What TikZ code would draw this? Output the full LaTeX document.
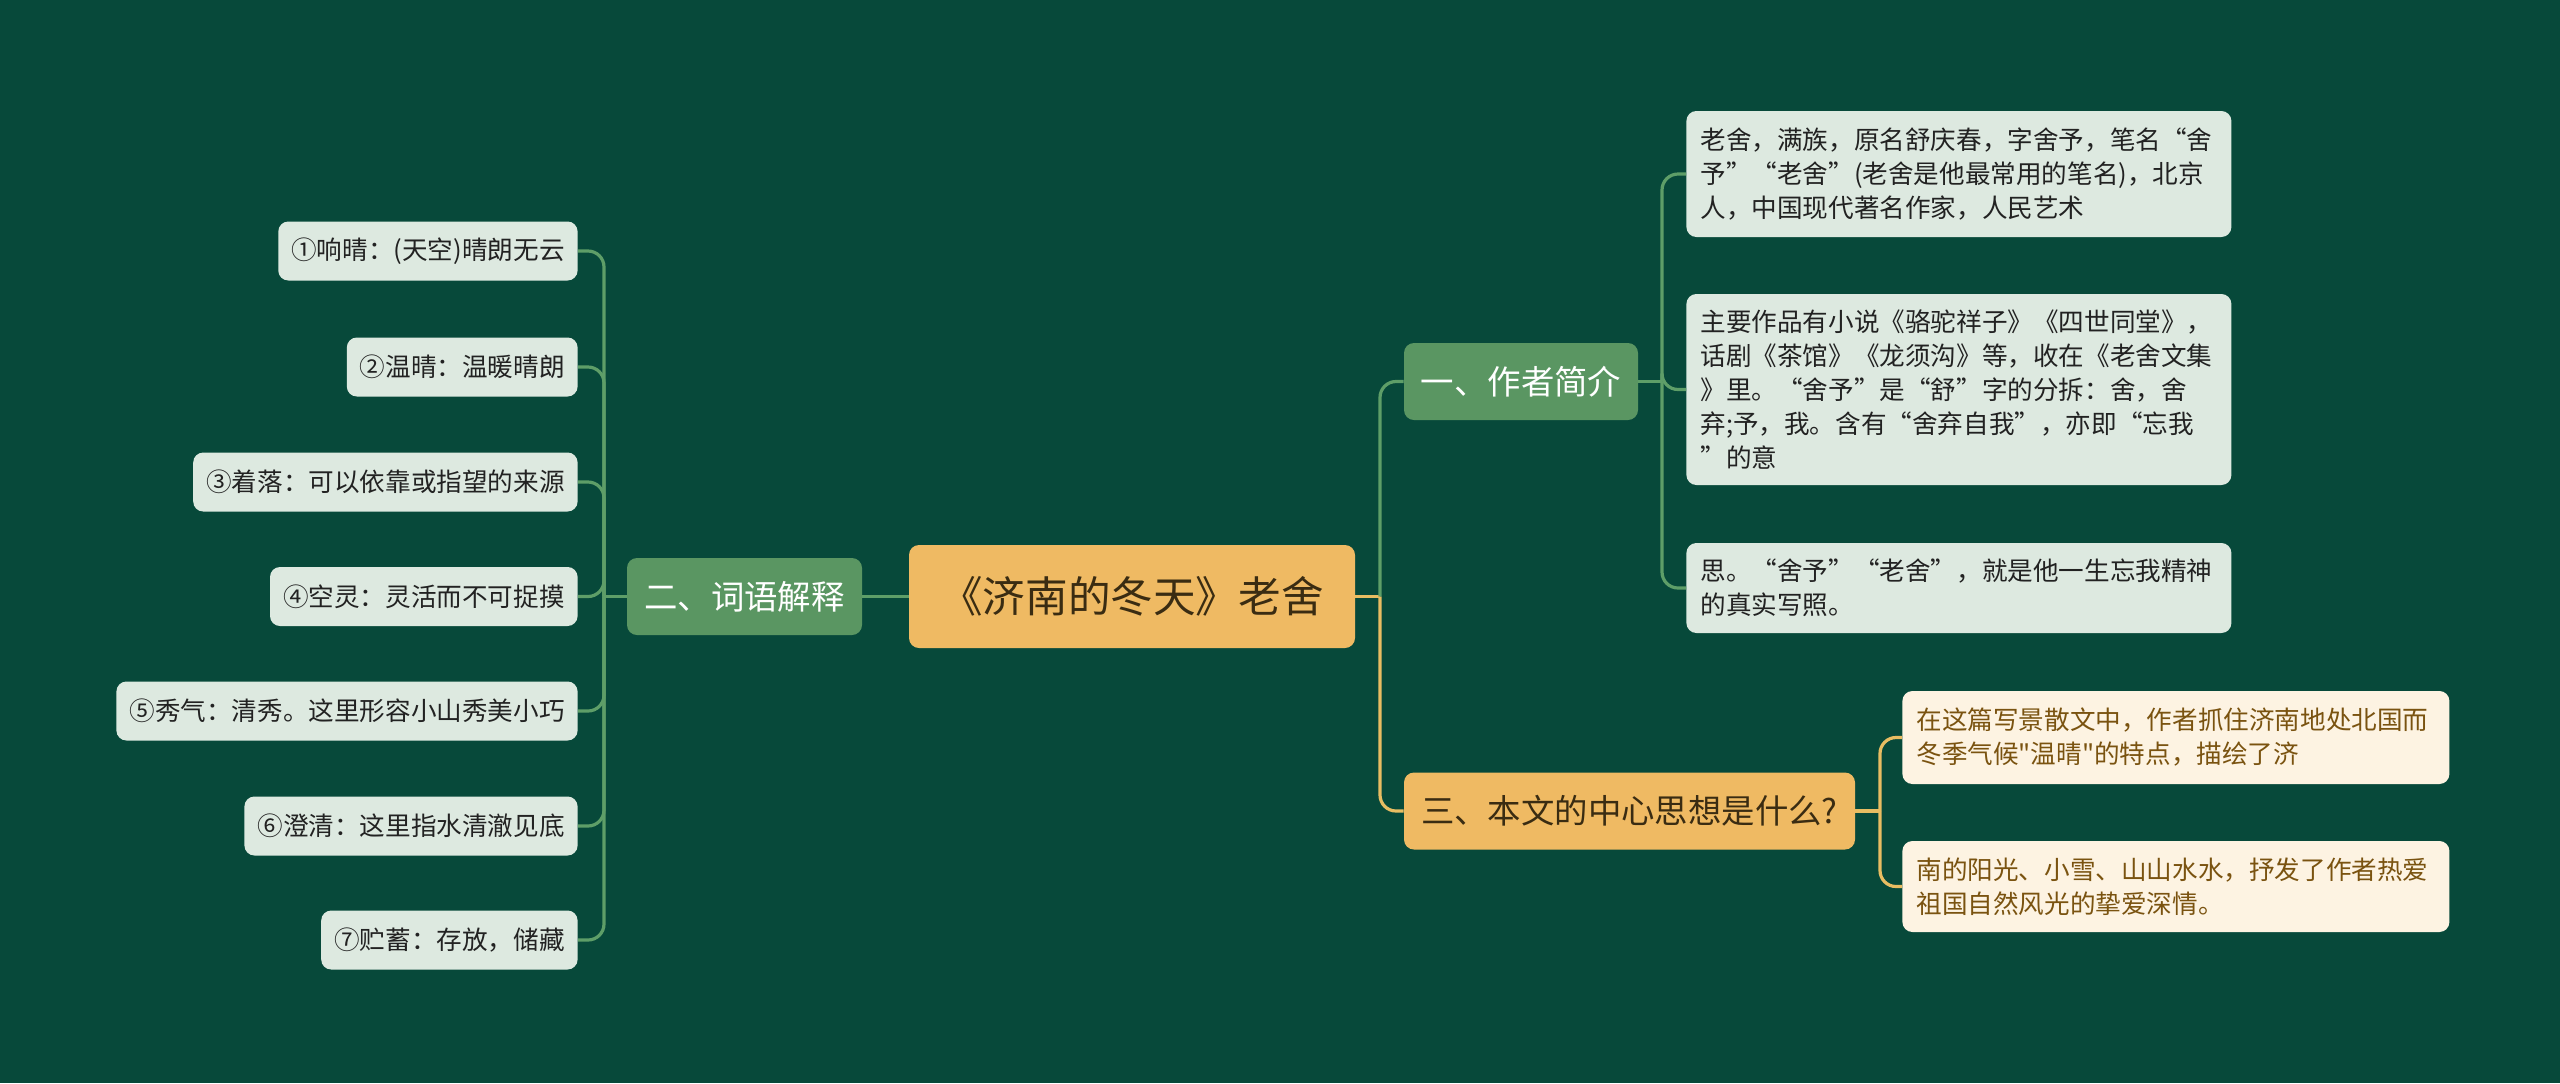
\documentclass[tikz,border=0pt]{standalone}
\usepackage{fontspec}
\setmainfont{Noto Sans CJK SC}
\setmonofont{Noto Sans CJK SC}
\newcommand{\sq}{{\ttfamily"}}
\definecolor{bg}{HTML}{07493A}
\definecolor{rootfill}{HTML}{EFBA63}
\definecolor{roottext}{HTML}{3A2C12}
\definecolor{lonegreen}{HTML}{5A9662}
\definecolor{leafgreen}{HTML}{DDE9E0}
\definecolor{leaftext}{HTML}{222222}
\definecolor{cream}{HTML}{FDF3E2}
\definecolor{browntext}{HTML}{7A5310}
\definecolor{linegreen}{HTML}{5E9E68}
\definecolor{lineyellow}{HTML}{E8BD62}
\begin{document}
\begin{tikzpicture}[x=0.5pt,y=-0.5pt,
  box/.style={rectangle, rounded corners=5pt, inner sep=0pt},
  rootbox/.style={box, fill=rootfill, text=roottext, minimum width=223pt, minimum height=51.5pt, font=\fontsize{21.3}{26}\selectfont},
  lvlgreen/.style={box, fill=lonegreen, text=white, minimum height=38.5pt, font=\fontsize{16.7}{20}\selectfont},
  lvlorange/.style={box, fill=rootfill, text=roottext, minimum height=38.5pt, font=\fontsize{16.7}{20}\selectfont},
  leafL/.style={box, fill=leafgreen, text=leaftext, minimum height=29.5pt, inner xsep=6.5pt, anchor=east, font=\fontsize{12.8}{17}\selectfont},
  leafR/.style={box, fill=leafgreen, text=leaftext, text width=258.5pt, inner xsep=7pt, align=left, anchor=west, font=\fontsize{12.8}{17}\selectfont},
  leafO/.style={box, fill=cream, text=browntext, text width=259.5pt, inner xsep=7pt, align=left, anchor=west, font=\fontsize{12.8}{17}\selectfont},
  conng/.style={draw=linegreen, line width=1.6pt, rounded corners=8pt},
  conny/.style={draw=lineyellow, line width=1.6pt, rounded corners=8pt}
]
\fill[bg] (0,0) rectangle (2560,1083);
\useasboundingbox (0,0) rectangle (2560,1083);

% root
\node[rootbox] (root) at (1132,596.5) {《济南的冬天》老舍};

% level one
\node[lvlgreen, minimum width=117.5pt] (n2) at (744.5,596.5) {二、词语解释};
\node[lvlgreen, minimum width=117pt] (n1) at (1521,381.5) {一、作者简介};
\node[lvlorange, minimum width=225.5pt] (n3) at (1629.5,811) {三、本文的中心思想是什么?};

% left leaves
\node[leafL] (L1) at (578,251) {①响晴：(天空)晴朗无云};
\node[leafL] (L2) at (578,367) {②温晴：温暖晴朗};
\node[leafL] (L3) at (578,482) {③着落：可以依靠或指望的来源};
\node[leafL] (L4) at (578,596.5) {④空灵：灵活而不可捉摸};
\node[leafL] (L5) at (578,711) {⑤秀气：清秀。这里形容小山秀美小巧};
\node[leafL] (L6) at (578,826) {⑥澄清：这里指水清澈见底};
\node[leafL] (L7) at (578,940) {⑦贮蓄：存放，储藏};

% right green leaves
\node[leafR, minimum height=63pt] (R1) at (1686,174) {老舍，满族，原名舒庆春，字舍予，笔名“舍\\予”“老舍”(老舍是他最常用的笔名)，北京\\人，中国现代著名作家，人民艺术};
\node[leafR, minimum height=95.5pt] (R2) at (1686,389.5) {主要作品有小说《骆驼祥子》《四世同堂》，\\话剧《茶馆》《龙须沟》等，收在《老舍文集\\》里。“舍予”是“舒”字的分拆：舍，舍\\弃;予，我。含有“舍弃自我”，亦即“忘我\\”的意};
\node[leafR, minimum height=45pt] (R3) at (1686,588) {思。“舍予”“老舍”，就是他一生忘我精神\\的真实写照。};

% orange leaves
\node[leafO, minimum height=46.5pt] (O1) at (1902,737.5) {在这篇写景散文中，作者抓住济南地处北国而\\冬季气候\sq 温晴\sq 的特点，描绘了济};
\node[leafO, minimum height=45.5pt] (O2) at (1902,886.5) {南的阳光、小雪、山山水水，抒发了作者热爱\\祖国自然风光的挚爱深情。};

% junctions
\coordinate (jL) at (604,596.5);
\coordinate (jR) at (1380,596.5);
\coordinate (j1) at (1662,381.5);
\coordinate (j3) at (1880,811);

% connectors: root
\draw[conng] (root.west) -- (n2.east);
\draw[conny] (root.east) -- (jR);
\draw[conng] (jR) |- (n1.west);
\draw[conny] (jR) |- (n3.west);

% connectors: left
\draw[conng] (n2.west) -- (jL);
\foreach \l in {L1,L2,L3,L4,L5,L6,L7} {
  \draw[conng] (jL) |- (\l.east);
}

% connectors: right green
\draw[conng] (n1.east) -- (j1);
\foreach \r in {R1,R2,R3} {
  \draw[conng] (j1) |- (\r.west);
}

% connectors: orange
\draw[conny] (n3.east) -- (j3);
\foreach \o in {O1,O2} {
  \draw[conny] (j3) |- (\o.west);
}
\end{tikzpicture}
\end{document}
